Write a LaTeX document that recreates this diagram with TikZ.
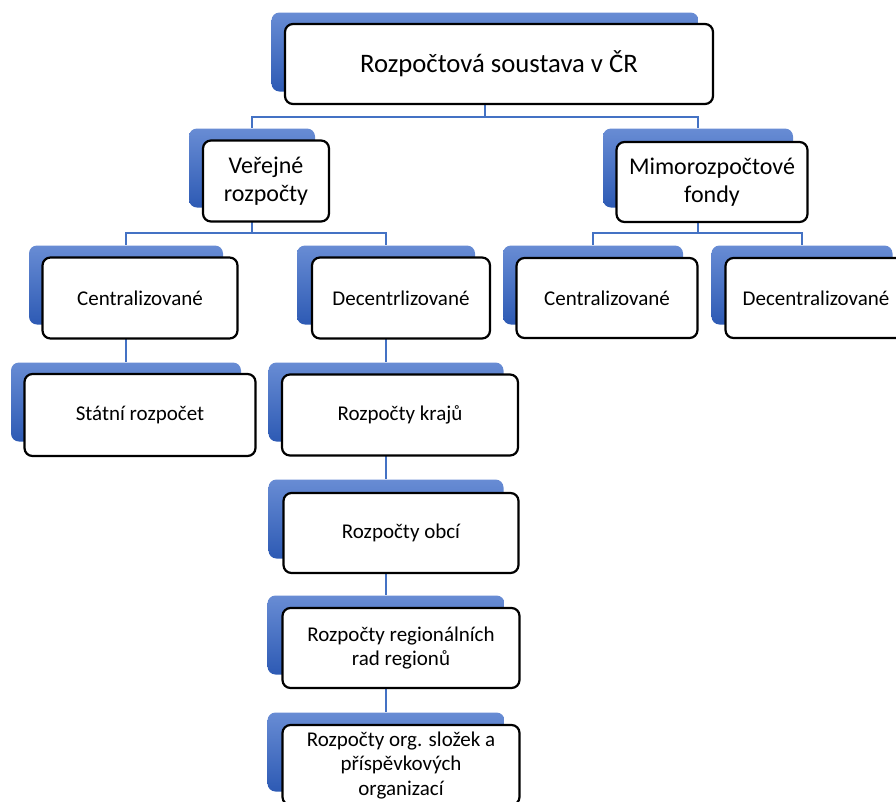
\documentclass[tikz,border=0pt]{standalone}
\usepackage{fontspec}
\setmainfont{Carlito}
\usetikzlibrary{backgrounds}
\definecolor{linkblue}{RGB}{68,114,196}
\definecolor{tabtop}{RGB}{104,140,212}
\definecolor{tabbot}{RGB}{45,90,180}

\begin{document}
\begin{tikzpicture}[x=1pt, y=-1pt,
		back/.style={rectangle, rounded corners=8pt, top color=tabtop, bottom color=tabbot,
			draw=none, minimum width=#1, minimum height=79pt},
		back/.default=236pt,
		box/.style={rectangle, rounded corners=8pt, draw=black, line width=2.2pt, fill=white,
			align=center, font=\fontsize{21}{24.5}\selectfont, minimum width=#1, minimum height=80pt},
		box/.default=236pt,
		big/.style={font=\fontsize{24}{27.5}\selectfont},
		link/.style={draw=linkblue, line width=1.3pt}]
	\clip (0,0) rectangle (896,801);

	% tabs behind the boxes
	\node[back=427pt] (rootS) at (485,52) {};
	\node[back=126pt] (verS) at (252,168) {};
	\node[back=190pt] (mimS) at (698,168) {};
	\node[back=194pt] (cenAS) at (126,285) {};
	\node[back=178pt] (decAS) at (386,285) {};
	\node[back=180pt] (cenBS) at (593,285) {};
	\node[back=181pt] (decBS) at (802,285) {};
	\node[back=230pt] (statS) at (126,402) {};
	\node[back=235pt] (krajS) at (386,402) {};
	\node[back=235pt] (obceS) at (386,519) {};
	\node[back=237pt] (radyS) at (386,635) {};
	\node[back=237pt] (orgS) at (386,752) {};

	% white boxes
	\node[box=428pt, font=\fontsize{26.7}{31}\selectfont] (root) at (499,64) {Rozpočtová soustava v ČR};
	\node[box=126pt, big, minimum height=81pt] (ver) at (266,181) {Veřejné\\rozpočty};
	\node[box=191pt, big] (mim) at (712,182) {Mimorozpočtové\\fondy};
	\node[box=195pt, minimum height=81pt] (cenA) at (140,298) {Centralizované};
	\node[box=178pt, minimum height=81pt] (decA) at (401,298) {Decentrlizované};
	\node[box=181pt] (cenB) at (607,298) {Centralizované};
	\node[box=181pt] (decB) at (816,298) {Decentralizované};
	\node[box=231pt, minimum height=82pt] (stat) at (140,415) {Státní rozpočet};
	\node[box=236pt, minimum height=81pt] (kraj) at (400,415) {Rozpočty krajů};
	\node[box=235pt] (obce) at (401,533) {Rozpočty obcí};
	\node[box=237pt] (rady) at (401,648) {Rozpočty regionálních\\rad regionů};
	\node[box=237pt] (org) at (401,765) {Rozpočty org. složek a\\příspěvkových\\organizací};

	\coordinate (busA) at (0,117);
	\coordinate (busB) at (0,233);

	\begin{scope}[on background layer]
		\draw[link] (rootS) -- (rootS |- busA) -| (verS);
		\draw[link] (rootS |- busA) -| (mimS);
		\draw[link] (verS) -- (verS |- busB) -| (cenAS);
		\draw[link] (verS |- busB) -| (decAS);
		\draw[link] (mimS) -- (mimS |- busB) -| (cenBS);
		\draw[link] (mimS |- busB) -| (decBS);
		\draw[link] (cenAS) -- (statS);
		\draw[link] (decAS) -- (krajS) -- (obceS) -- (radyS) -- (orgS);
	\end{scope}
\end{tikzpicture}
\end{document}
